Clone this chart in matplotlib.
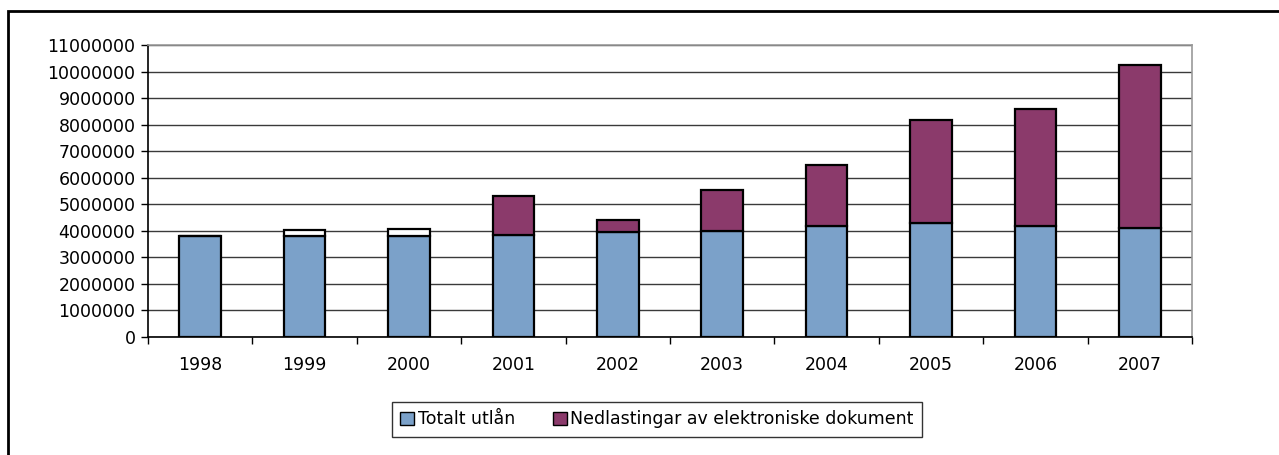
import numpy as np
import matplotlib.pyplot as plt
import matplotlib.patches as mpatches

# ── Data ──────────────────────────────────────────────────────────────────────
years     = ["1998", "1999", "2000", "2001", "2002", "2003", "2004", "2005", "2006", "2007"]
utlan     = [3820000, 3820000, 3790000, 3850000, 3950000, 4010000, 4200000, 4280000, 4200000, 4090000]
nedlast   = [0, 220000, 270000, 1480000, 460000, 1530000, 2280000, 3910000, 4390000, 6150000]
yticks    = np.arange(0, 11000001, 1000000)

# 1999/2000 second segment is drawn white in the original
nedlast_colors = ["#8B3A6B", "white", "white"] + ["#8B3A6B"] * 7

BLUE   = "#7BA1C9"
PURPLE = "#8B3A6B"
FS     = 12.5

fig = plt.figure(figsize=(12.79, 4.55), dpi=100)
ax = fig.add_axes([148 / 1279, 1 - 337 / 455, (1192 - 148) / 1279, (337 - 45) / 455])

x = np.arange(len(years))
ax.bar(x, utlan, width=0.4, color=BLUE, edgecolor="black", linewidth=1.6, zorder=3)
ax.bar(x, nedlast, width=0.4, bottom=utlan, color=nedlast_colors,
       edgecolor="black", linewidth=1.6, zorder=3)

ax.set_xlim(-0.5, len(years) - 0.5)
ax.set_ylim(0, 11000000)
ax.set_yticks(yticks)
ax.set_yticklabels([f"{v:d}" for v in yticks], fontsize=FS)
ax.yaxis.grid(True, color="#3a3a3a", linewidth=1.0, zorder=0)

ax.set_xticks(x)
ax.set_xticklabels(years, fontsize=FS)
ax.set_xticks(np.arange(-0.5, len(years)), minor=True)
ax.tick_params(axis="x", which="major", length=0, pad=14)
ax.tick_params(axis="x", which="minor", length=5, width=1, color="black")
ax.tick_params(axis="y", length=5, width=1, pad=4, color="black")

for s in ["top", "right"]:
    ax.spines[s].set_color("#999999")
    ax.spines[s].set_linewidth(1.2)
ax.spines["left"].set_color("black")
ax.spines["left"].set_linewidth(1.2)
ax.spines["bottom"].set_color("black")
ax.spines["bottom"].set_linewidth(1.2)
ax.spines["bottom"].set_zorder(4)

# ── Legend ────────────────────────────────────────────────────────────────────
handles = [mpatches.Patch(facecolor=BLUE, edgecolor="black", label="Totalt utlån"),
           mpatches.Patch(facecolor=PURPLE, edgecolor="black",
                          label="Nedlastingar av elektroniske dokument")]
leg = fig.legend(handles=handles, loc="center", bbox_to_anchor=(657 / 1279, 1 - 419.5 / 455),
                 ncol=2, fontsize=FS, frameon=True, fancybox=False, handlelength=0.8,
                 handleheight=0.8, handletextpad=0.2, columnspacing=2.2,
                 borderpad=0.5, borderaxespad=0, edgecolor="black")
leg.get_frame().set_linewidth(1.0)

# ── Outer frame ───────────────────────────────────────────────────────────────
fig.patches.append(mpatches.Rectangle((8 / 1279, -0.1), 1.2, 1 - 11 / 455 + 0.1,
                                      transform=fig.transFigure, fill=False,
                                      edgecolor="black", linewidth=2))

plt.savefig("out.png", dpi=100)
